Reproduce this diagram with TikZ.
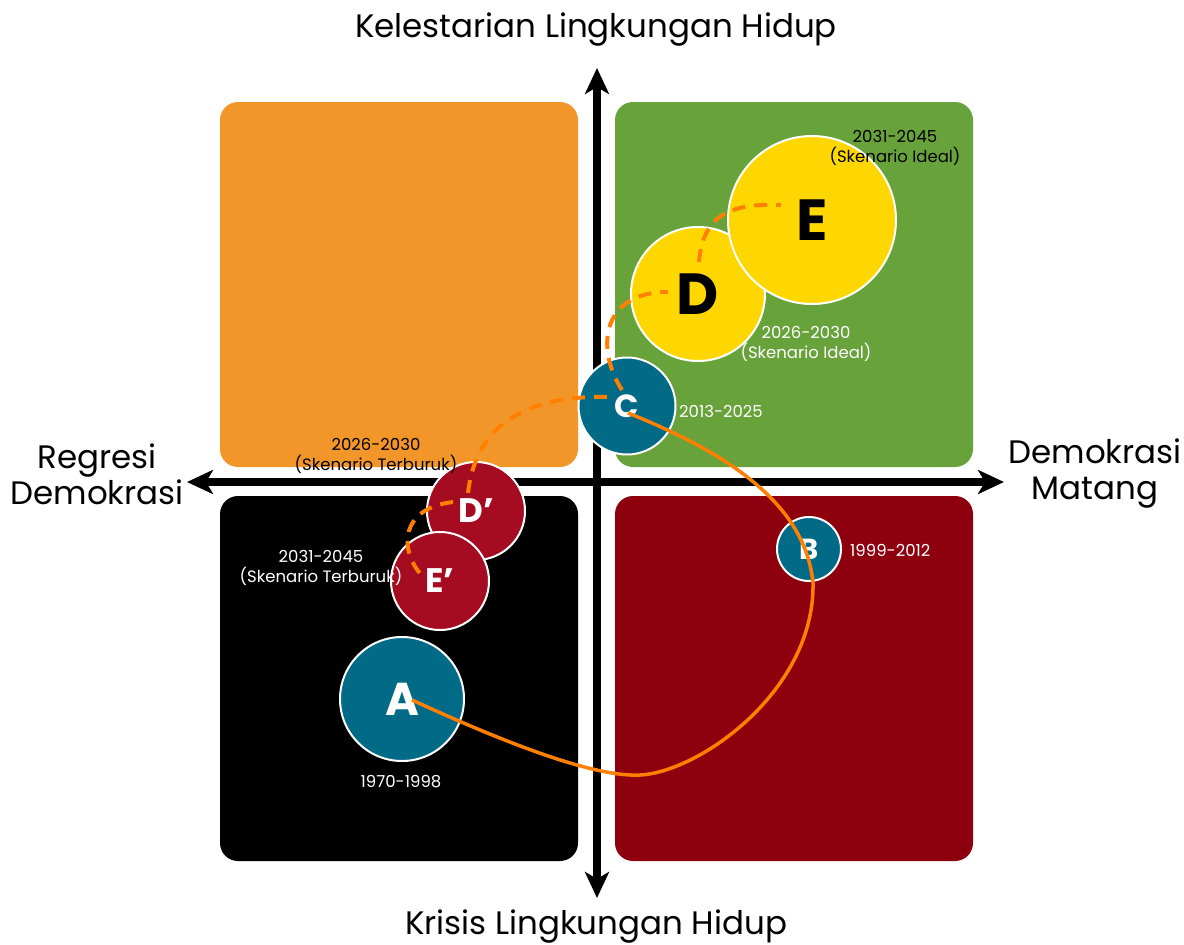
\documentclass[tikz,border=0pt]{standalone}
\usepackage{fontspec}
\setmainfont{Poppins}
\usetikzlibrary{arrows.meta,calc}
\definecolor{qorange}{HTML}{F39629}
\definecolor{qgreen}{HTML}{68A23B}
\definecolor{qred}{HTML}{8E000E}
\definecolor{cteal}{HTML}{006A87}
\definecolor{cyellow}{HTML}{FFD700}
\definecolor{cred}{HTML}{A50C22}
\definecolor{path}{HTML}{FF7F00}
\tikzset{
  quad/.style={rounded corners=18pt},
  axis/.style={line width=7.5pt, -{Stealth[length=26pt,width=24pt,inset=7pt]}},
  bubble/.style={circle, draw=white, line width=2pt, inner sep=0pt, font=\bfseries},
  lbl/.style={align=center, font=\fontsize{16.5}{20}\selectfont, inner sep=0pt},
  axlbl/.style={align=center, font=\fontsize{32.5}{36}\selectfont, inner sep=0pt},
  trail/.style={draw=path, line width=3.5pt},
  dtrail/.style={draw=path, line width=4pt, dash pattern=on 13pt off 9pt},
}
\begin{document}
\begin{tikzpicture}[x=1pt,y=-1pt]
\useasboundingbox (0,0) rectangle (1184,945);
% quadrants
\fill[qorange,quad] (220,102) rectangle (578,467);
\fill[qgreen,quad] (615,102) rectangle (973,467);
\fill[black,quad] (220,496) rectangle (578,861);
\fill[qred,quad] (615,496) rectangle (973,861);
% axes
\coordinate (ytop) at (597,68);
\coordinate (ybot) at (597,898);
\coordinate (xleft) at (187,482);
\coordinate (xright) at (1004,482);
\coordinate (origin) at (597,482);
\draw[axis] (origin) -- (ytop);
\draw[axis] (origin) -- (ybot);
\draw[axis] (origin) -- (xleft);
\draw[axis] (origin) -- (xright);
% axis labels
\node[axlbl] (lt) at (596,30) {Kelestarian Lingkungan Hidup};
\node[axlbl] (lb) at (596,927) {Krisis Lingkungan Hidup};
\node[axlbl] (ll) at (97,474) {Regresi\\Demokrasi};
\node[axlbl] (lr) at (1095,474) {Demokrasi\\Matang};
% bubbles
\node[bubble, fill=cteal, minimum size=124pt, text=white, font=\fontsize{46}{46}\bfseries] (A) at (402,699) {A};
\node[bubble, fill=cteal, minimum size=64pt, text=white, font=\fontsize{29}{29}\bfseries] (B) at (809,549) {B};
\node[bubble, fill=cteal, minimum size=97pt, text=white, font=\fontsize{32}{32}\bfseries] (C) at (627,406) {C};
\node[bubble, fill=cyellow, minimum size=134pt, text=black, font=\fontsize{58}{58}\bfseries] (D) at (698,294) {D};
\node[bubble, fill=cyellow, minimum size=168pt, text=black, font=\fontsize{58}{58}\bfseries] (E) at (812,220) {E};
\node[bubble, fill=cred, minimum size=98pt, text=white, font=\fontsize{34}{34}\bfseries] (Dp) at (476,511) {D’};
\node[bubble, fill=cred, minimum size=98pt, text=white, font=\fontsize{34}{34}\bfseries] (Ep) at (440,581) {E’};
% labels
\node[lbl, text=white] (la) at (401,782) {1970-1998};
\node[lbl, text=white, anchor=west] (lbB) at (850,550) {1999-2012};
\node[lbl, text=white, anchor=west] (lc) at (679,411) {2013-2025};
\node[lbl, text=white] (ld) at (806,344) {2026-2030\\(Skenario Ideal)};
\node[lbl, text=black] (le) at (895,148) {2031-2045\\(Skenario Ideal)};
\node[lbl, text=black] (ldp) at (376,456) {2026-2030\\(Skenario Terburuk)};
\node[lbl, text=white] (lep) at (321,568) {2031-2045\\(Skenario Terburuk)};
% solid trail A -> B -> C
\draw[trail] ($(A.center)+(10,1)$) .. controls (525,752) and (600,777) .. (640,775)
  .. controls (700,772) and (815,690) .. ($(B.center)+(4,34)$)
  .. controls (805,500) and (720,450) .. ($(C.center)+(1,7)$);
% dashed ideal C -> D -> E
\draw[dtrail] ($(C.center)+(-5,-16)$) .. controls (596,350) and (600,292) .. ($(D.center)+(-30,-2)$);
\draw[dtrail] ($(D.center)+(1,-32)$) .. controls (703,215) and (730,203) .. ($(E.center)+(-31,-15)$);
% dashed worst C -> D' -> E'
\draw[dtrail] ($(C.center)+(-20,-9)$) .. controls (520,395) and (475,430) .. ($(Dp.center)+(-8,-18)$);
\draw[dtrail] ($(Dp.center)+(-23,-9)$) .. controls (400,508) and (398,550) .. ($(Ep.center)+(-17,-4)$);
\end{tikzpicture}
\end{document}
